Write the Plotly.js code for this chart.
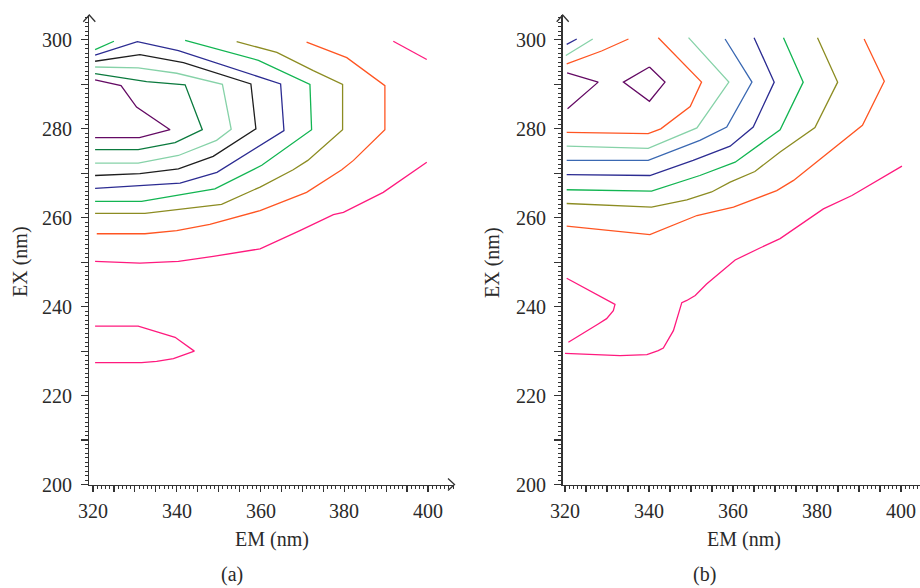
<!DOCTYPE html>
<html>
<head>
<meta charset="utf-8">
<script src="https://cdn.plot.ly/plotly-3.0.1.min.js"></script>
<style>html,body{margin:0;padding:0;background:#fff;}#chart{width:920px;height:588px;}</style>
</head>
<body>
<div id="chart"></div>
<script>
// ---------- Panel (a): contour lines, EM (nm) vs EX (nm) ----------
const A_PURPLE_EM = [320.5, 326.7, 330.4, 338.4, 331.1, 320.5];
const A_PURPLE_EX = [291.0, 289.7, 284.9, 279.8, 278.0, 278.0];
const A_DKGREEN_EM = [320.5, 330.8, 332.8, 342.0, 346.1, 339.6, 330.8, 320.5];
const A_DKGREEN_EX = [292.4, 291.0, 290.6, 289.9, 279.8, 276.9, 275.3, 275.3];
const A_LTGREEN_EM = [320.5, 330.8, 340.0, 350.9, 353.0, 349.5, 340.4, 330.8, 320.5];
const A_LTGREEN_EX = [293.9, 293.7, 292.5, 290.0, 279.9, 277.4, 274.0, 272.3, 272.3];
const A_BLACK_EM = [320.5, 331.2, 341.6, 357.7, 358.9, 348.7, 340.4, 331.2, 320.5];
const A_BLACK_EX = [295.2, 296.7, 294.9, 290.1, 280.0, 273.8, 271.0, 269.9, 269.5];
const A_BLUE_EM = [320.5, 330.6, 340.4, 364.8, 365.6, 349.6, 340.8, 320.5];
const A_BLUE_EX = [296.6, 299.6, 297.6, 290.1, 279.6, 270.2, 267.8, 266.6];
const A_GREEN1_EM = [320.5, 325.0];
const A_GREEN1_EX = [297.8, 299.7];
const A_GREEN2_EM = [342.0, 359.5, 371.8, 372.2, 360.3, 349.1, 331.6, 320.5];
const A_GREEN2_EX = [299.9, 295.4, 290.0, 279.8, 271.8, 266.5, 263.7, 263.7];
const A_OLIVE_EM = [354.3, 363.9, 372.6, 379.6, 379.6, 371.3, 367.8, 359.9, 350.7, 332.4, 320.5];
const A_OLIVE_EX = [299.6, 297.2, 293.1, 290.0, 279.8, 272.9, 270.8, 266.9, 263.0, 261.0, 261.0];
const A_ORANGE_EM = [371.0, 380.6, 389.7, 389.7, 382.2, 379.4, 371.0, 359.9, 347.9, 340.0, 332.4, 320.9];
const A_ORANGE_EX = [299.5, 296.0, 289.7, 279.8, 272.9, 270.8, 265.7, 261.6, 258.5, 257.1, 256.4, 256.4];
const A_PINK1_EM = [391.7, 399.7];
const A_PINK1_EX = [299.7, 295.6];
const A_PINK2_EM = [399.7, 389.3, 379.8, 377.4, 369.4, 359.9, 348.7, 340.4, 331.2, 320.5];
const A_PINK2_EX = [272.5, 265.7, 261.2, 260.7, 257.1, 253.0, 251.3, 250.2, 249.8, 250.2];
const A_PINK3_EM = [320.5, 330.8, 339.6, 344.2, 339.2, 335.2, 331.6, 320.5];
const A_PINK3_EX = [235.6, 235.6, 233.1, 230.0, 228.3, 227.7, 227.4, 227.4];

// ---------- Panel (b) ----------
const B_PURPLE1_EM = [320.5, 327.9, 320.6];
const B_PURPLE1_EX = [292.6, 290.5, 284.5];
const B_PURPLE2_EM = [340.1, 343.8, 340.1, 333.9, 340.1];
const B_PURPLE2_EX = [293.9, 290.5, 286.2, 290.5, 293.9];
const B_NAVY1_EM = [320.4, 322.8];
const B_NAVY1_EX = [299.0, 300.2];
const B_LTGREEN1_EM = [320.2, 326.6];
const B_LTGREEN1_EX = [296.5, 300.2];
const B_ORANGE1_EM = [320.4, 328.7, 335.1];
const B_ORANGE1_EX = [294.6, 297.5, 300.2];
const B_ORANGE2_EM = [342.2, 352.5, 349.8, 342.8, 339.8, 320.4];
const B_ORANGE2_EX = [300.5, 290.5, 285.0, 280.0, 278.9, 279.2];
const B_LTGREEN2_EM = [349.4, 359.0, 351.4, 339.8, 320.4];
const B_LTGREEN2_EX = [300.5, 290.5, 280.2, 275.6, 276.1];
const B_STEEL_EM = [358.1, 364.5, 358.5, 352.1, 339.8, 320.4];
const B_STEEL_EX = [300.2, 290.5, 280.4, 277.4, 272.9, 272.9];
const B_NAVY2_EM = [365.0, 369.8, 364.8, 359.3, 350.5, 340.2, 320.4];
const B_NAVY2_EX = [300.5, 290.5, 280.4, 276.1, 272.9, 269.5, 269.7];
const B_GREEN_EM = [372.0, 376.7, 371.2, 360.5, 352.1, 340.6, 320.4];
const B_GREEN_EX = [300.5, 290.5, 279.8, 272.5, 269.5, 266.0, 266.3];
const B_OLIVE_EM = [380.1, 384.9, 379.5, 371.2, 365.2, 359.3, 354.9, 349.0, 340.6, 320.4];
const B_OLIVE_EX = [300.5, 290.5, 280.3, 274.8, 270.4, 268.0, 265.8, 264.0, 262.4, 263.2];
const B_RED_EM = [391.2, 396.0, 390.8, 383.9, 374.4, 370.4, 360.1, 351.4, 340.2, 320.4];
const B_RED_EX = [300.2, 290.7, 280.8, 275.5, 268.4, 266.1, 262.4, 260.5, 256.2, 258.1];
const B_PINK1_EM = [400.2, 388.3, 381.5, 371.2, 366.4, 360.5, 353.7, 351.0, 349.0, 347.8, 345.8, 343.4, 342.2, 339.5, 333.1, 320.0];
const B_PINK1_EX = [271.6, 265.0, 262.0, 255.3, 253.2, 250.5, 245.1, 242.5, 241.4, 240.9, 234.6, 230.7, 230.1, 229.2, 229.0, 229.5];
const B_PINK2_EM = [320.4, 331.9, 331.5, 329.9, 327.9, 320.8];
const B_PINK2_EX = [246.4, 240.5, 239.1, 237.3, 236.1, 232.0];

// Tick positions and labels
const X_TICKS = [320, 325, 330, 335, 340, 345, 350, 355, 360, 365, 370, 375, 380, 385, 390, 395, 400];
const X_LABEL_VALS = [320, 340, 360, 380, 400];
const X_LABELS = ['320', '340', '360', '380', '400'];
const Y_TICKS = [200, 210, 220, 230, 240, 250, 260, 270, 280, 290, 300];
const Y_LABEL_VALS = [200, 220, 240, 260, 280, 300];
const Y_LABELS = ['200', '220', '240', '260', '280', '300'];

const C = {
  purple: '#640a64', dkgreen: '#0b7a3e', ltgreen: '#86d2a8', black: '#1e1e1e',
  blue: '#2c2c92', steel: '#3a68b2', green: '#12b552', olive: '#8c8c22',
  orange: '#ff5522', pink: '#ff1a7e'
};

function ln(x, y, color, ax) {
  return {type: 'scatter', mode: 'lines', x: x, y: y,
    xaxis: ax === 2 ? 'x2' : 'x', yaxis: ax === 2 ? 'y2' : 'y',
    line: {color: color, width: 1.3}, hoverinfo: 'skip'};
}

const traces = [
  ln(A_PURPLE_EM, A_PURPLE_EX, C.purple, 1),
  ln(A_DKGREEN_EM, A_DKGREEN_EX, C.dkgreen, 1),
  ln(A_LTGREEN_EM, A_LTGREEN_EX, C.ltgreen, 1),
  ln(A_BLACK_EM, A_BLACK_EX, C.black, 1),
  ln(A_BLUE_EM, A_BLUE_EX, C.blue, 1),
  ln(A_GREEN1_EM, A_GREEN1_EX, C.green, 1),
  ln(A_GREEN2_EM, A_GREEN2_EX, C.green, 1),
  ln(A_OLIVE_EM, A_OLIVE_EX, C.olive, 1),
  ln(A_ORANGE_EM, A_ORANGE_EX, C.orange, 1),
  ln(A_PINK1_EM, A_PINK1_EX, C.pink, 1),
  ln(A_PINK2_EM, A_PINK2_EX, C.pink, 1),
  ln(A_PINK3_EM, A_PINK3_EX, C.pink, 1),
  ln(B_PURPLE1_EM, B_PURPLE1_EX, C.purple, 2),
  ln(B_PURPLE2_EM, B_PURPLE2_EX, C.purple, 2),
  ln(B_NAVY1_EM, B_NAVY1_EX, C.blue, 2),
  ln(B_LTGREEN1_EM, B_LTGREEN1_EX, C.ltgreen, 2),
  ln(B_ORANGE1_EM, B_ORANGE1_EX, C.orange, 2),
  ln(B_ORANGE2_EM, B_ORANGE2_EX, C.orange, 2),
  ln(B_LTGREEN2_EM, B_LTGREEN2_EX, C.ltgreen, 2),
  ln(B_STEEL_EM, B_STEEL_EX, C.steel, 2),
  ln(B_NAVY2_EM, B_NAVY2_EX, C.blue, 2),
  ln(B_GREEN_EM, B_GREEN_EX, C.green, 2),
  ln(B_OLIVE_EM, B_OLIVE_EX, C.olive, 2),
  ln(B_RED_EM, B_RED_EX, C.orange, 2),
  ln(B_PINK1_EM, B_PINK1_EX, C.pink, 2),
  ln(B_PINK2_EM, B_PINK2_EX, C.pink, 2)
];

const FONT = {family: 'Liberation Serif', size: 20, color: '#2a2a2a'};
const AX = '#333';

function xax(domain, range, anchor) {
  return {domain: domain, range: range, anchor: anchor, showgrid: false, zeroline: false,
    showline: true, linecolor: AX, linewidth: 1.3, ticks: 'outside', ticklen: 6, tickwidth: 1.2,
    tickcolor: AX, tickmode: 'array', tickvals: X_TICKS, showticklabels: false,
    minor: {tickmode: 'linear', tick0: 320, dtick: 1, ticks: 'outside', ticklen: 3, tickwidth: 1, tickcolor: AX, showgrid: false}};
}
function yax(anchor) {
  return {domain: [0.176, 0.9745], range: [200, 305.6], anchor: anchor, showgrid: false, zeroline: false,
    showline: true, linecolor: AX, linewidth: 1.3, ticks: 'outside', ticklen: 7, tickwidth: 1.2,
    tickcolor: AX, tickmode: 'array', tickvals: Y_TICKS, showticklabels: false,
    minor: {tickmode: 'linear', tick0: 200, dtick: 1, ticks: 'outside', ticklen: 3, tickwidth: 1, tickcolor: AX, showgrid: false}};
}

function px(x) { return x / 920; }
function py(y) { return 1 - y / 588; }
function chevron(pts) {
  return {type: 'path', xref: 'paper', yref: 'paper',
    path: 'M' + px(pts[0][0]) + ',' + py(pts[0][1]) + ' L' + px(pts[1][0]) + ',' + py(pts[1][1]) + ' L' + px(pts[2][0]) + ',' + py(pts[2][1]),
    line: {color: AX, width: 1.3}};
}

const ann = (text, x, y, angle, yanchor) => ({text: text, xref: 'paper', yref: 'paper', x: px(x), y: py(y),
  xanchor: 'center', yanchor: yanchor || 'middle', showarrow: false, textangle: angle || 0, font: FONT, borderpad: 0});

const annotations = [
  ann('EM (nm)', 271.7, 539),
  ann('EM (nm)', 744, 539),
  ann('EX (nm)', 21, 262, -90),
  ann('EX (nm)', 493, 262, -90),
  ann('(a)', 232, 587, 0, 'bottom'),
  ann('(b)', 704, 587, 0, 'bottom')
];
// tick labels placed through the axes' own data scales
X_LABEL_VALS.forEach((v, i) => {
  [['x', 511], ['x2', 511]].forEach(([xr, ypix]) => {
    annotations.push({text: X_LABELS[i], xref: xr, yref: 'paper', x: v, y: py(ypix),
      xanchor: 'center', yanchor: 'middle', showarrow: false, font: FONT, borderpad: 0});
  });
});
Y_LABEL_VALS.forEach((v, i) => {
  [['y', 73], ['y2', 547]].forEach(([yr, xpix]) => {
    annotations.push({text: Y_LABELS[i], xref: 'paper', yref: yr, x: px(xpix), y: v,
      xanchor: 'right', yanchor: 'middle', showarrow: false, font: FONT, borderpad: 0});
  });
});

const layout = {
  width: 920, height: 588, margin: {l: 0, r: 0, t: 0, b: 0},
  paper_bgcolor: '#fff', plot_bgcolor: '#fff', showlegend: false, font: FONT,
  xaxis: xax([0.09707, 0.49348], [319.12, 406.2], 'y'),
  yaxis: yax('x'),
  xaxis2: xax([0.61163, 1], [319.45, 404.5], 'y2'),
  yaxis2: yax('x2'),
  shapes: [
    chevron([[83.3, 21.7], [89.3, 15], [95.3, 21.7]]),
    chevron([[448, 478.5], [454.5, 484.5], [448, 490.5]]),
    chevron([[556.7, 21.7], [562.7, 15], [568.7, 21.7]])
  ],
  annotations: annotations
};

Plotly.newPlot('chart', traces, layout, {displayModeBar: false, staticPlot: true});
</script>
</body>
</html>
